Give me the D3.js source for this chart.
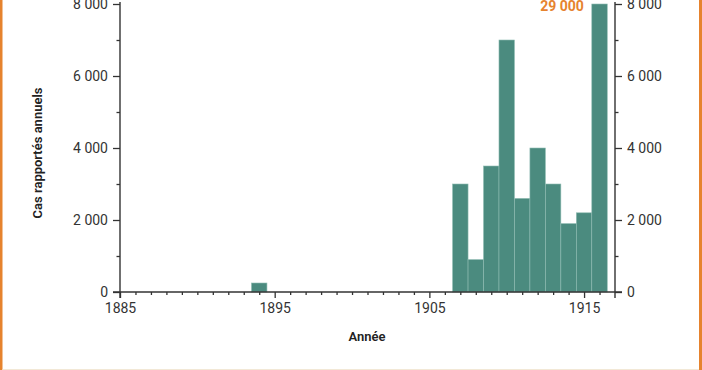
<!DOCTYPE html>
<html>
<head>
<meta charset="utf-8">
<script src="https://cdn.jsdelivr.net/npm/d3@7"></script>
<style>
  html, body { margin: 0; padding: 0; background: #fff; }
  svg { display: block; }
  text { font-family: Roboto, "DejaVu Sans", sans-serif; }
</style>
</head>
<body>
<svg id="chart" width="702" height="370"></svg>
<script>
// ---- data ----
const years  = [1894, 1907, 1908, 1909, 1910, 1911, 1912, 1913, 1914, 1915, 1916];
const cases  = [250, 3000, 900, 3500, 7000, 2600, 4000, 3000, 1900, 2200, 29000];
const yTicks = [0, 2000, 4000, 6000, 8000];
const xTicks = [1885, 1895, 1905, 1915];
const yMax   = 8000;           // display cap
const yTitle = "Cas rapportés annuels";
const xTitle = "Année";

// ---- layout ----
const svg = d3.select("#chart");
const W = 702, H = 370;
const mLeft = 120, mRight = 615, mTop = 4, mBottom = 292;

const x = d3.scaleLinear().domain([1885, 1917]).range([mLeft, mRight]);
const y = d3.scaleLinear().domain([0, yMax]).range([mBottom, mTop]);

const axisColor = "#333";
const barColor = "#4b8b7f";
const orange = "#e6832e";
const fmt = d => d === 0 ? "0" : d3.format(",")(d).replace(/,/g, " ");

// frame
svg.append("rect").attr("x", 0).attr("y", 0).attr("width", 2.5).attr("height", H).attr("fill", orange);
svg.append("rect").attr("x", 699).attr("y", 0).attr("width", 3).attr("height", H).attr("fill", orange);
svg.append("line").attr("x1", 2.5).attr("x2", 699).attr("y1", 369.5).attr("y2", 369.5)
  .attr("stroke", "#f2e8d6").attr("stroke-width", 1);

// bars
const data = years.map((yr, i) => ({ yr, v: cases[i] }));
svg.append("g").selectAll("rect").data(data).join("rect")
  .attr("x", d => x(d.yr - 0.5))
  .attr("width", d => x(d.yr + 0.5) - x(d.yr - 0.5))
  .attr("y", d => y(Math.min(d.v, yMax)))
  .attr("height", d => y(0) - y(Math.min(d.v, yMax)))
  .attr("fill", barColor)
  .attr("stroke", "#8fbcb2")
  .attr("stroke-width", 0.6);

// capped label
const capped = data.filter(d => d.v > yMax);
svg.append("g").selectAll("text").data(capped).join("text")
  .attr("x", d => x(d.yr - 0.5) - 8)
  .attr("y", 11)
  .attr("text-anchor", "end")
  .attr("fill", orange)
  .attr("font-weight", "bold")
  .attr("font-size", 14)
  .text(d => fmt(d.v));

// left axis
const gL = svg.append("g").attr("transform", `translate(${mLeft},0)`);
gL.call(d3.axisLeft(y).tickValues(yTicks).tickFormat(fmt).tickSize(7).tickPadding(5))
  .call(g => g.select(".domain").remove());
gL.append("g").call(d3.axisLeft(y).tickValues(d3.range(1000, 8000, 2000)).tickFormat("").tickSize(3.5))
  .call(g => g.select(".domain").remove());

// right axis
const gR = svg.append("g").attr("transform", `translate(${mRight},0)`);
gR.call(d3.axisRight(y).tickValues(yTicks).tickFormat(fmt).tickSize(7).tickPadding(5))
  .call(g => g.select(".domain").remove());
gR.append("g").call(d3.axisRight(y).tickValues(d3.range(1000, 8000, 2000)).tickFormat("").tickSize(3.5))
  .call(g => g.select(".domain").remove());

// bottom axis
const gB = svg.append("g").attr("transform", `translate(0,${mBottom})`);
gB.call(d3.axisBottom(x).tickValues(d3.range(1886, 1917).filter(v => (v - 1885) % 10 !== 0)).tickFormat("").tickSize(3))
  .call(g => g.select(".domain").remove());
gB.append("g").call(d3.axisBottom(x).tickValues(xTicks).tickFormat(d3.format("d")).tickSize(6).tickPadding(5))
  .call(g => g.select(".domain").remove());

// axis lines
svg.append("line").attr("x1", mLeft - 7).attr("x2", mRight + 7).attr("y1", mBottom).attr("y2", mBottom)
  .attr("stroke", axisColor).attr("stroke-width", 1.4);
svg.append("line").attr("x1", mLeft).attr("x2", mLeft).attr("y1", mTop - 2).attr("y2", mBottom + 6)
  .attr("stroke", axisColor).attr("stroke-width", 1.4);
svg.append("line").attr("x1", mRight).attr("x2", mRight).attr("y1", mTop - 2).attr("y2", mBottom + 6)
  .attr("stroke", axisColor).attr("stroke-width", 1.4);

svg.selectAll(".tick line").attr("stroke", axisColor).attr("stroke-width", 1.3);
svg.selectAll(".tick text").attr("fill", axisColor).attr("font-size", 14)
  .attr("font-family", "Roboto, 'DejaVu Sans', sans-serif");

// titles
svg.append("text")
  .attr("transform", `translate(42,${(mTop + mBottom) / 2 + 5}) rotate(-90)`)
  .attr("text-anchor", "middle")
  .attr("font-family", "'Open Sans', sans-serif")
  .attr("font-weight", 600).attr("font-size", 13).attr("fill", "#222")
  .text(yTitle);
svg.append("text")
  .attr("x", 367).attr("y", 341)
  .attr("text-anchor", "middle")
  .attr("font-family", "'Open Sans', sans-serif")
  .attr("font-weight", 600).attr("font-size", 13).attr("fill", "#222")
  .text(xTitle);
</script>
</body>
</html>
